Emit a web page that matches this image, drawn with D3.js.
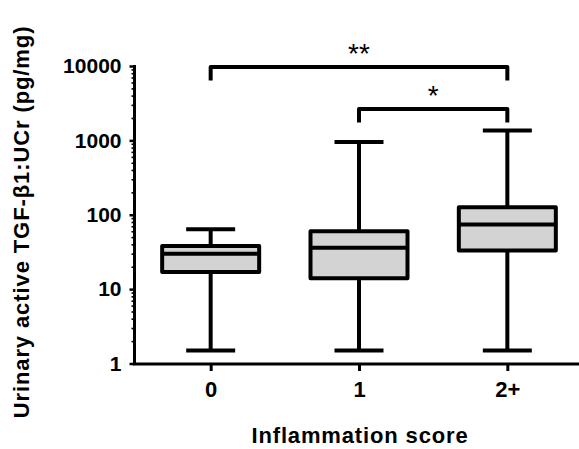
<!DOCTYPE html>
<html>
<head>
<meta charset="utf-8">
<script src="https://cdn.jsdelivr.net/npm/d3@7"></script>
<style>
  html, body { margin: 0; padding: 0; background: #fff; }
  svg { display: block; font-family: "Liberation Sans", Arial, Helvetica, sans-serif; }
</style>
</head>
<body>
<svg id="chart" width="579" height="449"></svg>
<script>
// ---- data ----
const categories = ["0", "1", "2+"];
const whiskerLow  = [1.5, 1.5, 1.5];
const q1Values    = [17, 14, 33];
const medians     = [30, 36, 74];
const q3Values    = [38, 60, 126];
const whiskerHigh = [64, 950, 1360];
const yTickValues = [1, 10, 100, 1000, 10000];
const sigFrom   = ["0", "1"];
const sigTo     = ["2+", "2+"];
const sigLevel  = [9700, 2650];
const sigLabels = ["**", "*"];
const xTitle = "Inflammation score";
const yTitle = "Urinary active TGF-\u03B21:UCr (pg/mg)";

// ---- layout ----
const W = 579, H = 449;
const axisX = 134.5, axisY = 364;
const svg = d3.select("#chart");

const y = d3.scaleLog().domain([1, 10000]).range([363.5, 66]);
const x = d3.scalePoint().domain(categories).range([136.5, 581.5]).padding(0.5);
const boxW = 97, capW = 49;

// y axis with minor ticks
const minorTicks = [];
for (let d = 1; d < 10000; d *= 10) for (let k = 2; k <= 9; k++) minorTicks.push(d * k);

const gy = svg.append("g").attr("transform", `translate(${axisX},0)`);
gy.call(d3.axisLeft(y).tickValues(minorTicks).tickSize(3).tickFormat(""))
  .call(g => g.select(".domain").remove())
  .call(g => g.selectAll("line").attr("stroke", "#000").attr("stroke-width", 1.6));
const gyMaj = svg.append("g").attr("transform", `translate(${axisX},0)`);
gyMaj.call(d3.axisLeft(y).tickValues(yTickValues).tickSize(5).tickSizeOuter(0).tickPadding(8)
    .tickFormat(d3.format("d")))
  .call(g => g.select(".domain").attr("stroke", "#000").attr("stroke-width", 3))
  .call(g => g.selectAll("line").attr("stroke", "#000").attr("stroke-width", 2.5))
  .call(g => g.selectAll("text").attr("fill", "#000").attr("font-size", 21)
      .attr("font-weight", "bold").attr("font-family", "Liberation Sans, Arial, sans-serif"));
gyMaj.select(".domain").attr("d", `M0,${axisY}V${y(10000) - 1}`);

// x axis
const gx = svg.append("g").attr("transform", `translate(0,${axisY})`);
gx.call(d3.axisBottom(x).tickSize(7).tickSizeOuter(0).tickPadding(10))
  .call(g => g.select(".domain").attr("d", `M${axisX - 1.5},0H${W}`).attr("stroke", "#000").attr("stroke-width", 3))
  .call(g => g.selectAll("line").attr("stroke", "#000").attr("stroke-width", 3))
  .call(g => g.selectAll("text").attr("fill", "#000").attr("font-size", 22)
      .attr("font-weight", "bold").attr("font-family", "Liberation Sans, Arial, sans-serif"));

// boxes
const boxes = categories.map((c, i) => ({
  c, lo: whiskerLow[i], q1: q1Values[i], med: medians[i], q3: q3Values[i], hi: whiskerHigh[i]
}));
const bg = svg.append("g").attr("stroke", "#000").attr("stroke-width", 4);
boxes.forEach(b => {
  const cx = x(b.c);
  bg.append("line").attr("x1", cx).attr("x2", cx).attr("y1", y(b.hi)).attr("y2", y(b.q3));
  bg.append("line").attr("x1", cx).attr("x2", cx).attr("y1", y(b.q1)).attr("y2", y(b.lo));
  bg.append("line").attr("x1", cx - capW / 2).attr("x2", cx + capW / 2).attr("y1", y(b.hi)).attr("y2", y(b.hi));
  bg.append("line").attr("x1", cx - capW / 2).attr("x2", cx + capW / 2).attr("y1", y(b.lo)).attr("y2", y(b.lo));
  bg.append("rect").attr("x", cx - boxW / 2).attr("width", boxW)
    .attr("y", y(b.q3)).attr("height", y(b.q1) - y(b.q3))
    .attr("fill", "#d3d3d3").attr("stroke-linejoin", "round");
  bg.append("line").attr("x1", cx - boxW / 2).attr("x2", cx + boxW / 2).attr("y1", y(b.med)).attr("y2", y(b.med));
});

// significance brackets
const sg = svg.append("g");
sigFrom.forEach((f, i) => {
  const x1 = x(f), x2 = x(sigTo[i]), yy = y(sigLevel[i]);
  sg.append("path").attr("d", `M${x1},${yy + 13.5}V${yy}H${x2}V${yy + 13.5}`)
    .attr("fill", "none").attr("stroke", "#000").attr("stroke-width", 4).attr("stroke-linejoin", "round");
  sg.append("text").attr("x", (x1 + x2) / 2).attr("y", yy - 4)
    .attr("text-anchor", "middle").attr("font-size", 28).attr("fill", "#000")
    .attr("font-family", "Liberation Sans, Arial, sans-serif")
    .text(sigLabels[i]);
});

// titles
svg.append("text").attr("x", 360).attr("y", 443).attr("text-anchor", "middle")
  .attr("font-size", 22).attr("font-weight", "bold").attr("letter-spacing", "0.85px")
  .attr("fill", "#000").text(xTitle);
svg.append("text").attr("transform", "translate(29,222) rotate(-90)").attr("text-anchor", "middle")
  .attr("font-size", 22).attr("font-weight", "bold").attr("letter-spacing", "0.9px")
  .attr("fill", "#000").text(yTitle);
</script>
</body>
</html>
